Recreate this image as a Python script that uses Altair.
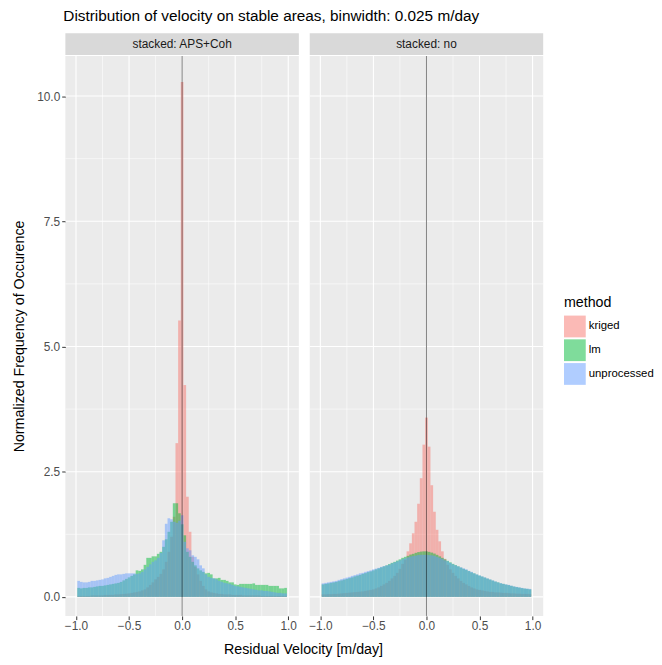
import altair as alt
import pandas as pd

# ---------------- data ----------------
BINWIDTH = 0.025
K = list(range(-39, 40))          # bin centres = k * binwidth
PANELS = ["stacked: APS+Coh", "stacked: no"]
METHODS = ["kriged", "lm", "unprocessed"]
COLORS = ["#F8766D", "#00BA38", "#619CFF"]

X_TICKS = [-1.0, -0.5, 0.0, 0.5, 1.0]
X_MINOR = [-0.75, -0.25, 0.25, 0.75]
Y_TICKS = [0.0, 2.5, 5.0, 7.5, 10.0]
Y_MINOR = [1.25, 3.75, 6.25, 8.75]
VLINE = [0.0]

aps_kriged = [0.02, 0.02, 0.02, 0.02, 0.02, 0.03, 0.03, 0.03, 0.03, 0.03, 0.04, 0.04, 0.04, 0.04, 0.05,
              0.05, 0.055, 0.06, 0.065, 0.07, 0.08, 0.09, 0.10, 0.11, 0.13, 0.15, 0.19, 0.24, 0.29, 0.35,
              0.40, 0.46, 0.55, 0.70, 0.90, 1.20, 1.60, 3.07, 5.52,
              10.28,
              4.23, 2.00, 1.30, 0.80, 0.60, 0.45, 0.32, 0.22, 0.15, 0.11,
              0.09, 0.08, 0.07, 0.06, 0.06, 0.05, 0.05, 0.05, 0.04, 0.04,
              0.04, 0.04, 0.03, 0.03, 0.03, 0.03, 0.03, 0.03, 0.03, 0.02,
              0.02, 0.02, 0.02, 0.02, 0.02, 0.02, 0.02, 0.02, 0.02]
aps_lm = [0.18, 0.17, 0.18, 0.18, 0.19, 0.19, 0.20, 0.21, 0.22, 0.22,
          0.23, 0.24, 0.25, 0.26, 0.27, 0.28, 0.30, 0.33, 0.36, 0.39,
          0.42, 0.45, 0.53, 0.52, 0.55, 0.64, 0.78, 0.78, 0.81, 0.81,
          0.86, 0.90, 1.00, 1.15, 1.30, 1.50, 1.87, 1.87, 1.67, 1.45,
          1.23, 0.90, 0.80, 0.70, 0.63, 0.57, 0.53, 0.50, 0.47, 0.48,
          0.45, 0.37, 0.37, 0.38, 0.34, 0.34, 0.32, 0.29, 0.29, 0.25,
          0.24, 0.26, 0.26, 0.26, 0.26, 0.26, 0.27, 0.24, 0.24, 0.24,
          0.24, 0.24, 0.22, 0.22, 0.22, 0.22, 0.17, 0.17, 0.18]
aps_unproc = [0.32, 0.30, 0.29, 0.29, 0.30, 0.32, 0.32, 0.33, 0.34, 0.35,
              0.37, 0.38, 0.40, 0.42, 0.44, 0.45, 0.45, 0.46, 0.47, 0.47,
              0.47, 0.47, 0.46, 0.47, 0.50, 0.55, 0.60, 0.65, 0.70, 0.73,
              0.78, 0.88, 1.13, 1.46, 1.57, 1.55, 1.50, 1.48, 1.52, 1.63,
              1.10, 0.97, 0.93, 0.83, 0.80, 0.75, 0.63, 0.57, 0.45, 0.40,
              0.38, 0.37, 0.35, 0.32, 0.30, 0.28, 0.27, 0.26, 0.24, 0.22,
              0.21, 0.20, 0.19, 0.18, 0.17, 0.16, 0.15, 0.14, 0.13, 0.13,
              0.12, 0.12, 0.11, 0.10, 0.09, 0.08, 0.08, 0.07, 0.07]

no_kriged = [0.05, 0.05, 0.055, 0.055, 0.06, 0.06, 0.065, 0.07, 0.075, 0.08,
             0.085, 0.09, 0.095, 0.10, 0.105, 0.11, 0.12, 0.13, 0.14, 0.15,
             0.17, 0.19, 0.22, 0.25, 0.28, 0.32, 0.37, 0.42, 0.48, 0.56,
             0.66, 0.74, 0.91, 1.07, 1.27, 1.50, 1.86, 2.37, 3.04, 3.58,
             3.00, 2.23, 1.70, 1.34, 1.11, 0.91, 0.76, 0.64, 0.55, 0.48,
             0.42, 0.37, 0.32, 0.28, 0.25, 0.22, 0.19, 0.17, 0.15, 0.14,
             0.13, 0.12, 0.11, 0.10, 0.10, 0.09, 0.09, 0.085, 0.08, 0.08,
             0.075, 0.07, 0.07, 0.065, 0.065, 0.06, 0.06, 0.06, 0.055]
no_lm = [0.25, 0.26, 0.27, 0.28, 0.29, 0.30, 0.315, 0.33, 0.345, 0.36,
         0.375, 0.39, 0.41, 0.425, 0.44, 0.46, 0.475, 0.495, 0.51, 0.53,
         0.55, 0.57, 0.59, 0.61, 0.63, 0.655, 0.68, 0.70, 0.725, 0.75,
         0.78, 0.80, 0.82, 0.845, 0.86, 0.88, 0.895, 0.905, 0.91, 0.91,
         0.90, 0.885, 0.865, 0.84, 0.81, 0.78, 0.75, 0.72, 0.69, 0.66,
         0.635, 0.61, 0.585, 0.56, 0.54, 0.515, 0.49, 0.47, 0.445, 0.425,
         0.405, 0.385, 0.365, 0.345, 0.325, 0.305, 0.29, 0.27, 0.26, 0.245,
         0.235, 0.22, 0.205, 0.195, 0.185, 0.175, 0.165, 0.16, 0.15]
no_unproc = [0.27, 0.28, 0.29, 0.30, 0.31, 0.32, 0.34, 0.355, 0.37, 0.385,
             0.40, 0.42, 0.435, 0.45, 0.47, 0.48, 0.50, 0.515, 0.53, 0.55,
             0.565, 0.58, 0.60, 0.615, 0.63, 0.645, 0.67, 0.69, 0.71, 0.73,
             0.755, 0.77, 0.79, 0.805, 0.815, 0.825, 0.835, 0.84, 0.84, 0.84,
             0.835, 0.83, 0.82, 0.80, 0.78, 0.76, 0.73, 0.71, 0.68, 0.65,
             0.63, 0.61, 0.59, 0.57, 0.55, 0.52, 0.50, 0.47, 0.45, 0.43,
             0.41, 0.39, 0.37, 0.35, 0.33, 0.31, 0.29, 0.275, 0.26, 0.25,
             0.24, 0.225, 0.21, 0.20, 0.19, 0.18, 0.17, 0.165, 0.16]

SERIES = {
    PANELS[0]: [aps_kriged, aps_lm, aps_unproc],
    PANELS[1]: [no_kriged, no_lm, no_unproc],
}

rows = []
for panel_name, series in SERIES.items():
    for method, values in zip(METHODS, series):
        assert len(values) == len(K), (panel_name, method, len(values))
        for k, v in zip(K, values):
            c = k * BINWIDTH
            rows.append({"panel": panel_name, "method": method,
                         "x0": c - BINWIDTH / 2, "x1": c + BINWIDTH / 2, "value": v})
bars_df = pd.DataFrame(rows)

# ---------------- chart ----------------
PW, PH, SH = 236, 566, 22
xscale = alt.Scale(domain=[-1.1, 1.1], nice=False, zero=False)
yscale = alt.Scale(domain=[-0.38, 10.80], nice=False, zero=False)
cscale = alt.Scale(domain=METHODS, range=COLORS)

legend = alt.Legend(title="method", orient="none", legendX=504, legendY=266,
                    symbolType="square", symbolSize=484, symbolOpacity=0.5,
                    symbolStrokeWidth=0, titleFontSize=14.4, titleFontWeight="normal",
                    titleColor="black", labelFontSize=11.5, labelColor="black",
                    rowPadding=2, titlePadding=5, labelOffset=3, padding=0)


def panel(name, first):
    d = bars_df[bars_df["panel"] == name]
    xaxis = alt.Axis(values=X_TICKS, format=".1f", title=None, grid=False, domain=False,
                     tickColor="#333333", tickSize=3.7, tickWidth=1,
                     labelColor="#4D4D4D", labelFontSize=12, labelPadding=1,
                     labelFlush=False)
    if first:
        yaxis = alt.Axis(values=Y_TICKS, format=".1f",
                         title="Normalized Frequency of Occurence", grid=False,
                         domain=False, tickColor="#333333", tickSize=3.7, tickWidth=1,
                         labelColor="#4D4D4D", labelFontSize=12, labelPadding=2,
                         titleFontSize=14.4, titleFontWeight="normal",
                         titleColor="black", titlePadding=10)
    else:
        yaxis = None

    xminor = alt.Chart(pd.DataFrame({"v": X_MINOR})).mark_rule(
        color="white", strokeWidth=0.55).encode(x=alt.X("v:Q", scale=xscale, axis=xaxis))
    yminor = alt.Chart(pd.DataFrame({"v": Y_MINOR})).mark_rule(
        color="white", strokeWidth=0.55).encode(y=alt.Y("v:Q", scale=yscale, axis=yaxis))
    xmajor = alt.Chart(pd.DataFrame({"v": X_TICKS})).mark_rule(
        color="white", strokeWidth=1.1).encode(x=alt.X("v:Q", scale=xscale, axis=xaxis))
    ymajor = alt.Chart(pd.DataFrame({"v": Y_TICKS})).mark_rule(
        color="white", strokeWidth=1.1).encode(y=alt.Y("v:Q", scale=yscale, axis=yaxis))
    bars = alt.Chart(d).mark_bar(opacity=0.5).encode(
        x=alt.X("x0:Q", scale=xscale, axis=xaxis),
        x2="x1:Q",
        y=alt.Y("value:Q", scale=yscale, axis=yaxis),
        y2=alt.datum(0),
        color=alt.Color("method:N", scale=cscale, legend=legend),
    )
    vline = alt.Chart(pd.DataFrame({"v": VLINE})).mark_rule(
        color="black", opacity=0.5, strokeWidth=1).encode(
        x=alt.X("v:Q", scale=xscale, axis=xaxis))
    layer = alt.layer(xminor, yminor, xmajor, ymajor, bars, vline).properties(
        width=PW, height=PH)

    strip = alt.Chart(pd.DataFrame({"label": [name]})).mark_text(
        fontSize=12, color="#1A1A1A").encode(
        text="label:N", x=alt.value(PW / 2), y=alt.value(SH / 2)).properties(
        width=PW, height=SH, view=alt.ViewBackground(fill="#D9D9D9", strokeWidth=0))
    return alt.vconcat(strip, layer, spacing=0)


inner = alt.hconcat(panel(PANELS[0], True), panel(PANELS[1], False), spacing=8).properties(
    title=alt.TitleParams("Residual Velocity [m/day]", orient="bottom", anchor="middle",
                          fontSize=14.4, fontWeight="normal", color="black", offset=12, dx=26))

chart = alt.vconcat(inner).properties(
    title=alt.TitleParams("Distribution of velocity on stable areas, binwidth: 0.025 m/day",
                          anchor="start", fontSize=15.5, fontWeight="normal", color="black",
                          offset=9, dx=52),
    padding={"left": 3, "top": -3, "right": 0, "bottom": -2},
).configure(font="Liberation Sans").configure_view(fill="#EBEBEB", strokeWidth=0)

chart.save("out.html", embed_options={"renderer": "svg", "actions": False})
